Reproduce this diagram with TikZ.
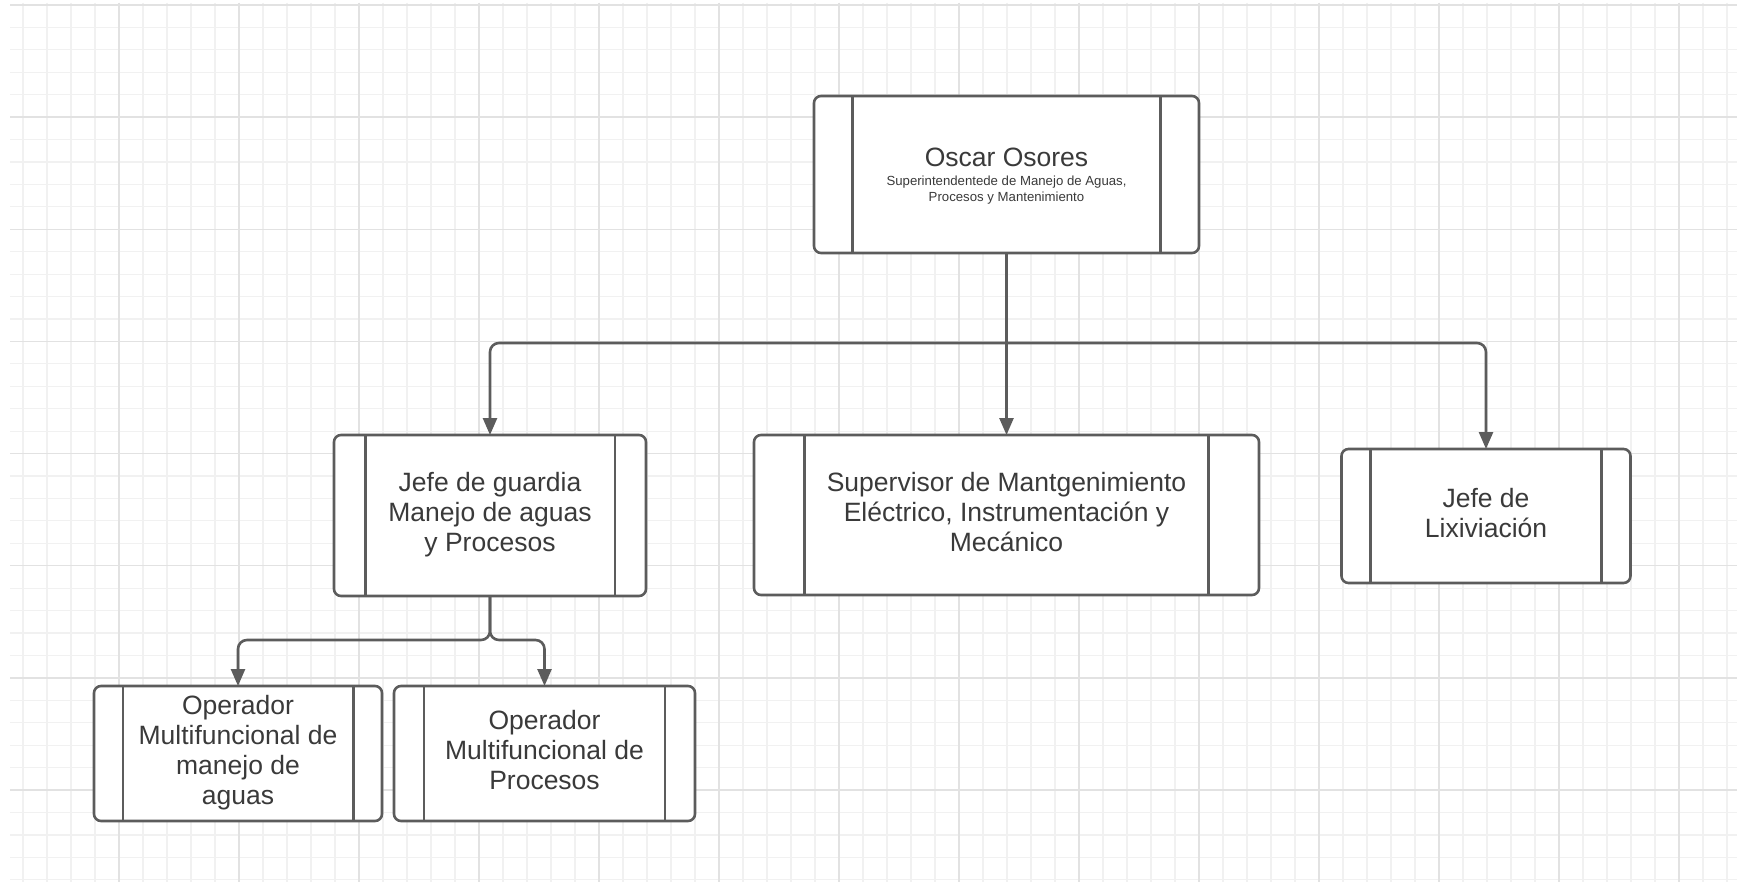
\documentclass[tikz,border=0pt]{standalone}
\usepackage{fontspec}
\setmainfont{Liberation Sans}
\usetikzlibrary{arrows.meta,calc}
\definecolor{edge}{HTML}{5C5C5C}
\definecolor{txt}{HTML}{3A3A3A}
\definecolor{gridminor}{HTML}{F1F1F1}
\definecolor{gridmajor}{HTML}{E2E2E2}
\tikzset{
  orgbox/.style={draw=edge, line width=2.6pt, rounded corners=7pt, fill=white,
    inner sep=0pt, outer sep=0pt, align=center, text=txt,
    font=\fontsize{26.5pt}{30pt}\selectfont,
    execute at end node={\rule[-7pt]{0pt}{7pt}}},
  sidebar/.style={draw=edge, line width=2.6pt},
  conn/.style={draw=edge, line width=2.6pt, -{Triangle[length=17pt,width=14pt]}, rounded corners=9pt},
  minorline/.style={draw=gridminor, line width=1.2pt},
  majorline/.style={draw=gridmajor, line width=1.4pt},
  plaintext/.style={text=txt, inner sep=0pt, align=center}
}
\newcommand\sidebars[1]{%
  \draw[sidebar] ($(#1.north west)!0.1!(#1.north east)$) -- ($(#1.south west)!0.1!(#1.south east)$);
  \draw[sidebar] ($(#1.north west)!0.9!(#1.north east)$) -- ($(#1.south west)!0.9!(#1.south east)$);}
\begin{document}
\begin{tikzpicture}[x=1pt,y=-1pt]
\fill[white] (0,0) rectangle (1737,882);
\useasboundingbox (0,0) rectangle (1737,882);
% grid
\foreach \k in {0,...,71} \draw[minorline] ({23+24*\k},3) -- ({23+24*\k},882);
\foreach \k in {0,...,39} \draw[minorline] (10,{5+22.43*\k}) -- (1737,{5+22.43*\k});
\foreach \k in {0,...,13} \draw[majorline] ({119+120*\k},3) -- ({119+120*\k},882);
\foreach \k in {0,...,7} \draw[majorline] (10,{5+112.15*\k}) -- (1737,{5+112.15*\k});

% boxes
\node[orgbox, minimum width=385pt, minimum height=157pt] (top) at (1006.5,174.5) {};
\sidebars{top}
\node[plaintext, font=\fontsize{26.5pt}{30pt}\selectfont] (topname) at (1006.5,157) {Oscar Osores};
\node[plaintext, font=\fontsize{13.2pt}{16pt}\selectfont] (topsub) at (1006.5,190) {Superintendentede de Manejo de Aguas,\\Procesos y Mantenimiento};

\node[orgbox, minimum width=312pt, minimum height=161pt] (jg) at (490,515.5) {Jefe de guardia\\Manejo de aguas\\y Procesos};
\sidebars{jg}
\node[orgbox, minimum width=505pt, minimum height=160pt] (sup) at (1006.5,515) {Supervisor de Mantgenimiento\\Eléctrico, Instrumentación y\\Mecánico};
\sidebars{sup}
\node[orgbox, minimum width=289pt, minimum height=134pt] (lix) at (1486,516) {Jefe de\\Lixiviación};
\sidebars{lix}
\node[orgbox, minimum width=288pt, minimum height=135pt] (op1) at (238,753.5) {Operador\\Multifuncional de\\manejo de\\aguas};
\sidebars{op1}
\node[orgbox, minimum width=301pt, minimum height=135pt] (op2) at (544.5,753.5) {Operador\\Multifuncional de\\Procesos};
\sidebars{op2}

% connectors
\coordinate (bus) at (1006.5,343);
\draw[conn] (top.south) -- (sup.north);
\draw[conn] (bus) -| (jg.north);
\draw[conn] (bus) -| (lix.north);
\draw[conn] (jg.south) -- ([yshift=-44pt]jg.south) -| (op1.north);
\draw[conn] (jg.south) -- ([yshift=-44pt]jg.south) -| (op2.north);
\end{tikzpicture}
\end{document}
